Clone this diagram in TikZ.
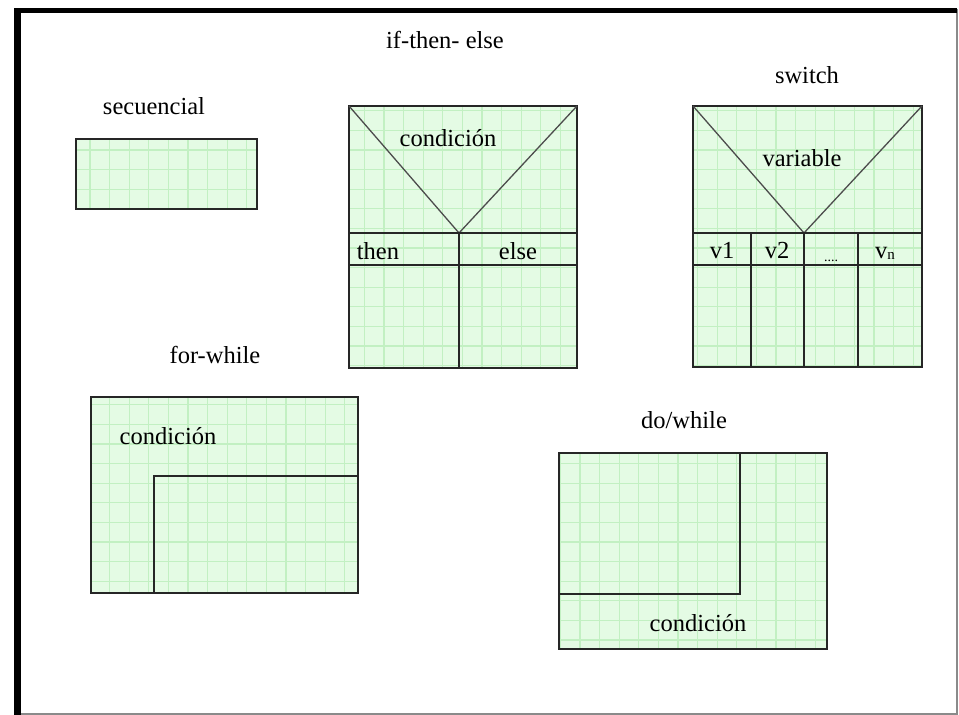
\documentclass[tikz,border=0pt]{standalone}
\usepackage{fontspec}
\setmainfont{Liberation Serif}
\definecolor{cellfill}{HTML}{E4FBE4}
\definecolor{cellgrid}{HTML}{C2F0C2}
\definecolor{framegray}{HTML}{8A8A8A}
\begin{document}
\begin{tikzpicture}[x=1pt,y=-1pt,
  edge/.style={draw=black!85, line width=1.4pt},
  vline/.style={draw=black!70, line width=1.3pt},
  lbl/.style={font=\fontsize{24.5}{27}\selectfont, anchor=base, inner sep=0pt},
  gridline/.style={draw=cellgrid, line width=1.3pt},
]
\useasboundingbox (0,0) rectangle (959,715);
\fill[white] (0,0) rectangle (959,715);

% page frame: heavy top and left, thin right and bottom
\draw[framegray, line width=1.5pt] (17,10) -- (957,10) -- (957,714) -- (17,714);
\draw[black, line width=5pt] (14,10) -- (957,10);
\draw[black, line width=7pt] (17,8) -- (17,715);

% filled panel with a light grid
\newcommand{\gridpanel}[2]{%
  \fill[cellfill] #1 rectangle #2;
  \begin{scope}
    \clip #1 rectangle #2;
    \begin{scope}[shift={(11.6,12.8)}]
      \draw[gridline, step=19.6pt] (-20,-20) grid (980,740);
    \end{scope}
  \end{scope}
  \draw[edge] #1 rectangle #2;}

% --- secuencial ---
\coordinate (s1) at (76,139);
\coordinate (s2) at (257,209);
\gridpanel{(s1)}{(s2)}
\node[lbl] (tsec) at (154,114) {secuencial};

% --- if-then-else ---
\coordinate (i1) at (349,106);
\coordinate (i2) at (577,368);
\coordinate (iapex) at (459,233);
\gridpanel{(i1)}{(i2)}
\draw[vline] (i1) -- (iapex) -- (577,106);
\draw[edge] (349,233) -- (577,233);
\draw[edge] (349,265) -- (577,265);
\draw[edge] (iapex) -- (459,368);
\node[lbl] (tite) at (445,48) {if-then- else};
\node[lbl] (tcond1) at (448,146) {condición};
\node[lbl] (tthen) at (378,259) {then};
\node[lbl] (telse) at (518,259) {else};

% --- switch ---
\coordinate (w1) at (693,106);
\coordinate (w2) at (922,367);
\coordinate (wapex) at (804,233);
\gridpanel{(w1)}{(w2)}
\draw[vline] (w1) -- (wapex) -- (922,106);
\draw[edge] (693,233) -- (922,233);
\draw[edge] (693,265) -- (922,265);
\draw[edge] (751,233) -- (751,367);
\draw[edge] (wapex) -- (804,367);
\draw[edge] (858,233) -- (858,367);
\node[lbl] (tsw) at (807,83) {switch};
\node[lbl] (tvar) at (802,166) {variable};
\node[lbl] (tv1) at (722,258) {v1};
\node[lbl] (tv2) at (777,258) {v2};
\node[lbl, font=\fontsize{14}{16}\selectfont] (tdots) at (831,261) {....};
\node[lbl] (tvn) at (885,258) {v\raisebox{-1pt}{\fontsize{15}{16}\selectfont n}};

% --- for-while ---
\coordinate (f1) at (91,397);
\coordinate (f2) at (358,593);
\gridpanel{(f1)}{(f2)}
\draw[edge] (154,593) -- (154,476) -- (358,476);
\node[lbl] (tfor) at (215,363) {for-while};
\node[lbl] (tcond2) at (168,444) {condición};

% --- do/while ---
\coordinate (d1) at (559,453);
\coordinate (d2) at (827,649);
\gridpanel{(d1)}{(d2)}
\draw[edge] (740,453) -- (740,594) -- (559,594);
\node[lbl] (tdo) at (684,428) {do/while};
\node[lbl] (tcond3) at (698,631) {condición};
\end{tikzpicture}
\end{document}
